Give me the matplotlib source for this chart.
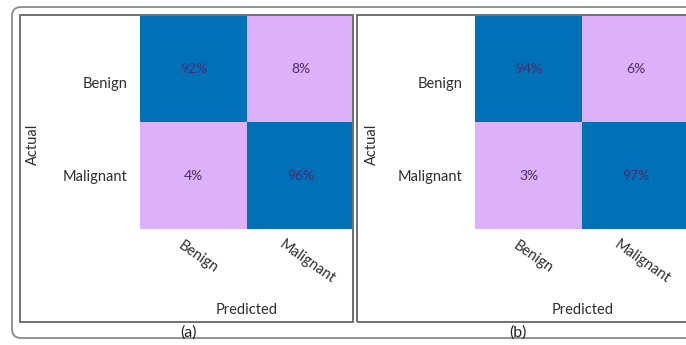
import numpy as np
import matplotlib.pyplot as plt
from matplotlib.colors import ListedColormap, BoundaryNorm
from matplotlib.patches import Rectangle, FancyBboxPatch
from matplotlib.transforms import IdentityTransform, ScaledTranslation

plt.rcParams['font.family'] = ['Lato', 'DejaVu Sans']

categories = ['Benign', 'Malignant']
cm_a = [[92, 8], [4, 96]]
cm_b = [[94, 6], [3, 97]]
panel_labels = ['(a)', '(b)']

W, H = 686, 345
blue = '#0071b6'
pink = '#dcb1fa'
txt_col = '#4b2a6e'
frame_col = '#707070'

cmap = ListedColormap([pink, blue])
norm = BoundaryNorm([0, 50, 100], 2)

fig = plt.figure(figsize=(W / 100, H / 100), dpi=100)


def px(x, y):
    # pixel (top-left origin) to figure fraction
    return x / W, 1 - y / H


# outer rounded frame and the two panel boxes (display coords, origin bottom-left)
outer = FancyBboxPatch((12, H - 338), 700, 331, boxstyle='round,pad=0,rounding_size=9',
                       transform=IdentityTransform(), fill=False, ec='#8a8a8a', lw=1.3)
fig.patches.append(outer)
for x0, x1 in [(20, 353), (357, 700)]:
    fig.patches.append(Rectangle((x0, H - 322), x1 - x0, 307, transform=IdentityTransform(),
                                 fill=False, ec=frame_col, lw=1.4))

panels = [
    dict(cm=cm_a, left=140, actual_x=33, ytick_r=130, pred_x=247, lab_x=189),
    dict(cm=cm_b, left=475, actual_x=372, ytick_r=465, pred_x=583, lab_x=518),
]

for p, lab in zip(panels, panel_labels):
    cm = np.array(p['cm'])
    l, b = px(p['left'], 229)
    ax = fig.add_axes([l, b, 214 / W, 213 / H])
    ax.imshow(cm, cmap=cmap, norm=norm, aspect='auto')
    for i in range(2):
        for j in range(2):
            ax.text(j, i, f'{cm[i, j]}%', ha='center', va='center', color=txt_col, fontsize=10)
    for s in ax.spines.values():
        s.set_visible(False)
    ax.set_xticks([0, 1])
    ax.set_yticks([0, 1])
    ax.set_xticklabels(categories, rotation=-35, rotation_mode='anchor', ha='center', va='center',
                       fontsize=10.5, color='#2e2e2e')
    ax.set_yticklabels(categories, fontsize=10.5, color='#2e2e2e')
    ax.tick_params(length=0)
    ax.tick_params(axis='x', pad=20)
    ax.tick_params(axis='y', pad=9)
    ylabs = ax.get_yticklabels()
    ylabs[0].set_transform(ylabs[0].get_transform() + ScaledTranslation(0, -13 / 100, fig.dpi_scale_trans))
    xlabs = ax.get_xticklabels()
    xlabs[0].set_transform(xlabs[0].get_transform() + ScaledTranslation(5 / 100, 0, fig.dpi_scale_trans))
    xlabs[1].set_transform(xlabs[1].get_transform() + ScaledTranslation(7 / 100, -5 / 100, fig.dpi_scale_trans))

    fig.text(*px(p['actual_x'], 144), 'Actual', rotation=90, ha='center', va='center',
             fontsize=10.5, color='#2e2e2e')
    fig.text(*px(p['pred_x'], 310), 'Predicted', ha='center', va='center', fontsize=10.5, color='#2e2e2e')
    fig.text(*px(p['lab_x'], 333), lab, ha='center', va='center', fontsize=11.5, color='#222222')

fig.savefig('out.png', dpi=100)
